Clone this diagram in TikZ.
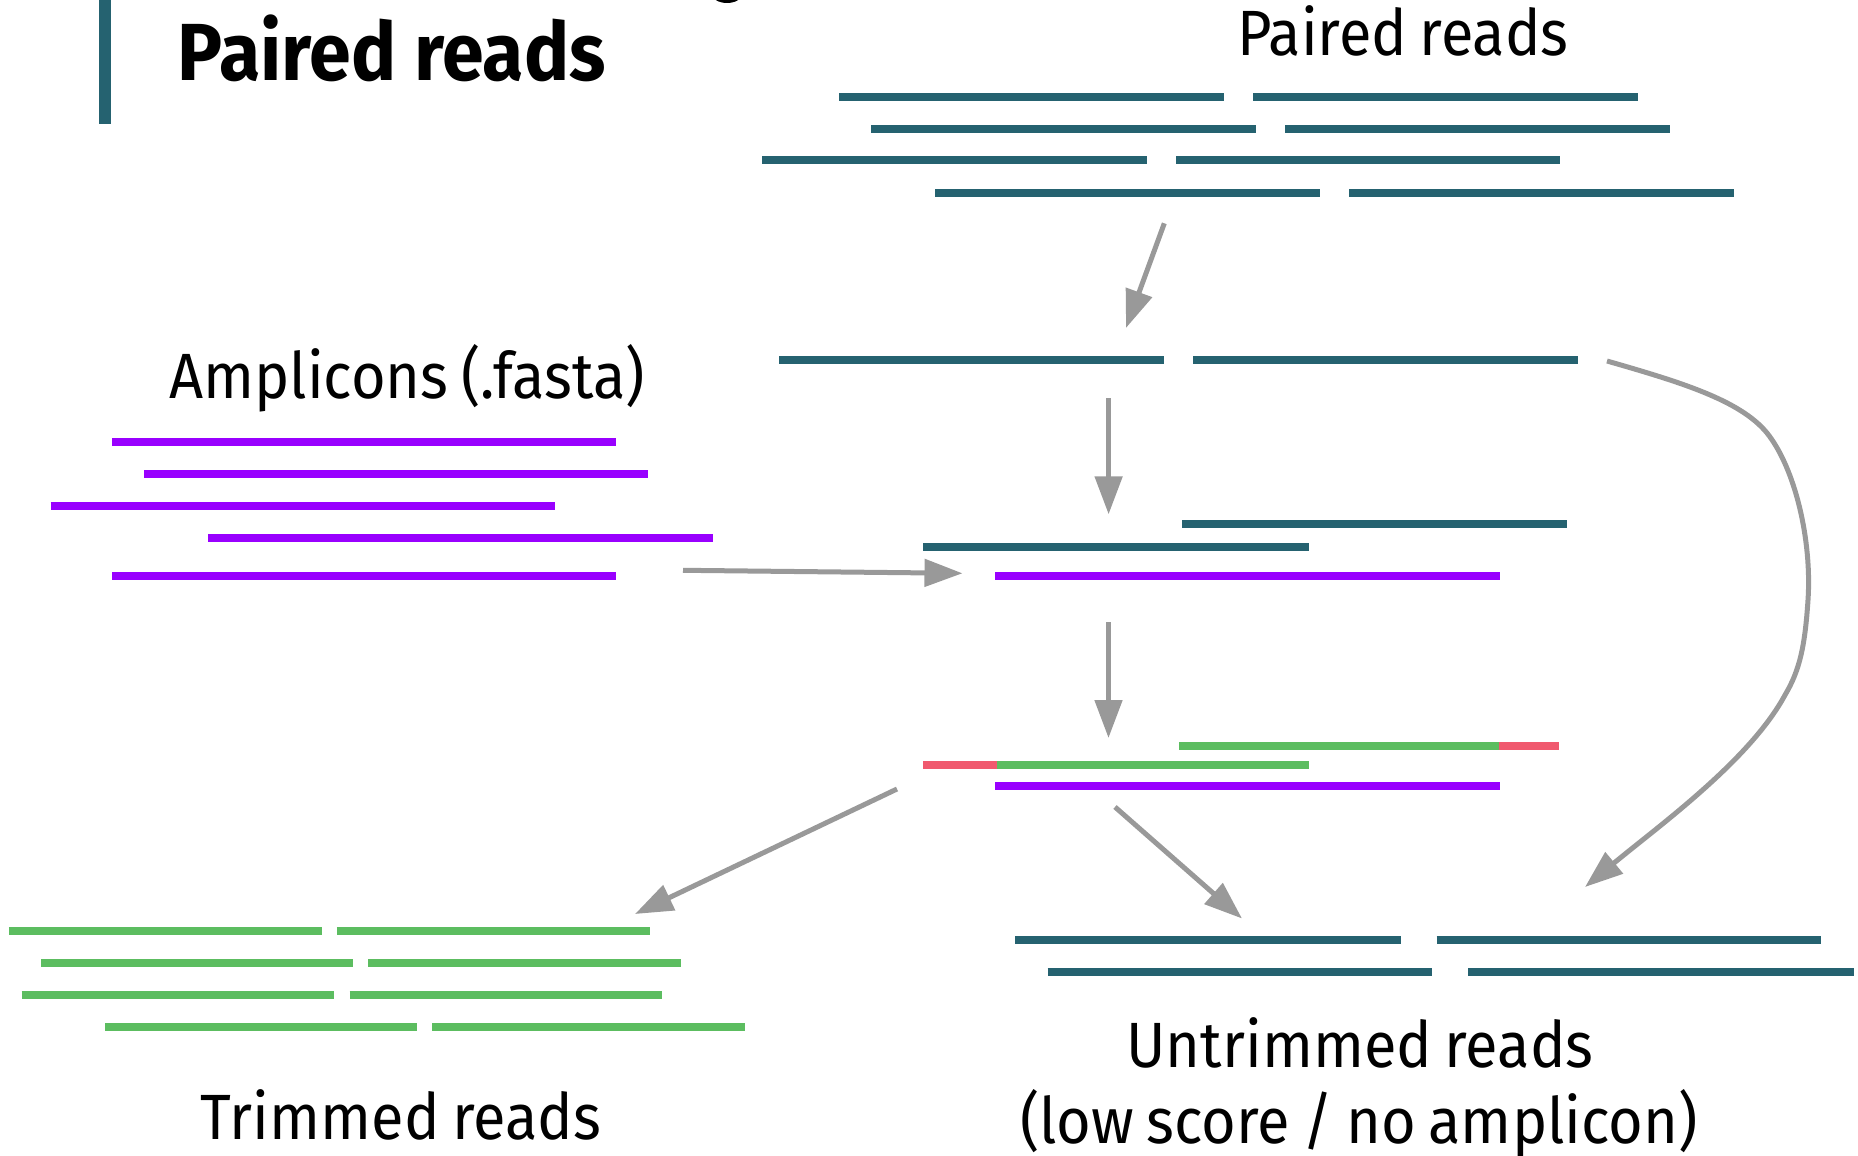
\documentclass[tikz,border=0pt]{standalone}
\usepackage{fontspec}
\setmainfont[FakeStretch=0.93]{Fira Sans}
\usetikzlibrary{arrows.meta}

\definecolor{readteal}{HTML}{256270}
\definecolor{amppurple}{HTML}{9900FF}
\definecolor{trimgreen}{HTML}{5CBD60}
\definecolor{cutred}{HTML}{F0596E}
\definecolor{flowgray}{HTML}{999999}

% narrower word spaces for the labels
\newcommand{\tightspaces}{\spaceskip=0.8\fontdimen2\font\relax}

\tikzset{
  readline/.style={line width=8pt, line cap=butt},
  flow/.style={draw=flowgray, line width=5pt,
    -{Triangle[length=38pt, width=27pt]}},
  label/.style={inner sep=0pt, anchor=base,
    font=\fontsize{64}{70}\selectfont\tightspaces},
  heading/.style={inner sep=0pt, anchor=base west,
    font=\fontsize{81}{90}\selectfont\bfseries},
}

\begin{document}
\begin{tikzpicture}[x=1pt, y=-1pt]
\useasboundingbox (0,0) rectangle (1858,1156);

% heading bar and cut-off descender from the line above
\fill[readteal] (99,0) rectangle (111,124);
\fill[black] (727,-6) ellipse [x radius=15, y radius=9];
\node[heading] (title) at (177.5,81) {Paired reads};

% labels
\node[label] (pairedlbl) at (1403,56) {Paired reads};
\node[label] (amplbl) at (407,398.3) {Amplicons (.fasta)};
\node[label] (trimlbl) at (401,1139) {Trimmed reads};
\node[label] (untrimlbl) at (1360,1067.7) {Untrimmed reads};
\node[label] (untrimwhy) at (1359,1143) {(low score / no amplicon)};

% paired reads
\begin{scope}[readline, readteal]
  \draw (839,97) -- (1224,97);   \draw (1253,97) -- (1638,97);
  \draw (871,129) -- (1256,129); \draw (1285,129) -- (1670,129);
  \draw (762,160) -- (1147,160); \draw (1176,160) -- (1560,160);
  \draw (935,192.7) -- (1320,192.7); \draw (1349,192.7) -- (1734,192.7);
  % one selected pair
  \draw (779,359.5) -- (1164,359.5); \draw (1193,359.5) -- (1578,359.5);
  % pair aligned to an amplicon
  \draw (1182,524) -- (1567,524);
  \draw (923,546.7) -- (1308.5,546.7);
  % untrimmed reads
  \draw (1015.3,939.7) -- (1400.5,939.7); \draw (1436.7,939.7) -- (1820.8,939.7);
  \draw (1047.6,971.7) -- (1432.3,971.7); \draw (1468.4,971.7) -- (1853.6,971.7);
\end{scope}

% amplicons
\begin{scope}[readline, amppurple]
  \draw (112,442.3) -- (616,442.3);
  \draw (144,474.2) -- (648,474.2);
  \draw (50.6,506.3) -- (555,506.3);
  \draw (208,538.3) -- (712.5,538.3);
  \draw (112,576) -- (616,576);
  \draw (995,575.7) -- (1499.5,575.7);
  \draw (995,786) -- (1499.5,786);
\end{scope}

% trimmed pair: primer parts in red
\draw[readline, trimgreen] (1179,746) -- (1499,746);
\draw[readline, cutred] (1499,746) -- (1559,746);
\draw[readline, cutred] (923,765) -- (997,765);
\draw[readline, trimgreen] (997,765) -- (1308.5,765);

% trimmed reads
\begin{scope}[readline, trimgreen]
  \draw (8.8,930.7) -- (321.5,930.7);  \draw (336.8,930.7) -- (649.5,930.7);
  \draw (41,962.7) -- (353.2,962.7);   \draw (368.4,962.7) -- (681.2,962.7);
  \draw (21.7,994.7) -- (333.8,994.7); \draw (349.7,994.7) -- (661.8,994.7);
  \draw (105,1026.7) -- (417.1,1026.7); \draw (432.4,1026.7) -- (745.1,1026.7);
\end{scope}

% arrow end points
\coordinate (s1) at (1164.3,223.3); \coordinate (t1) at (1126,328);
\coordinate (s2) at (1108.6,398.3); \coordinate (t2) at (1108.6,514.3);
\coordinate (s3) at (683,570.3);    \coordinate (t3) at (962.5,573.3);
\coordinate (s4) at (1108.5,622);   \coordinate (t4) at (1108.5,738);
\coordinate (s5) at (897,789);      \coordinate (t5) at (635,914);
\coordinate (s6) at (1115,807);     \coordinate (t6) at (1242,918.5);
\coordinate (s7) at (1607,361);     \coordinate (t7) at (1585,887);

\draw[flow] (s1) -- (t1);
\draw[flow] (s2) -- (t2);
\draw[flow] (s3) -- (t3);
\draw[flow] (s4) -- (t4);
\draw[flow] (s5) -- (t5);
\draw[flow] (s6) -- (t6);
\draw[flow] (s7) .. controls (1680,382) and (1740,400) .. (1767,433)
  .. controls (1795,468) and (1812,540) .. (1808,600)
  .. controls (1805,645) and (1800,670) .. (1785,695)
  .. controls (1750,760) and (1660,825) .. (t7);
\end{tikzpicture}
\end{document}
